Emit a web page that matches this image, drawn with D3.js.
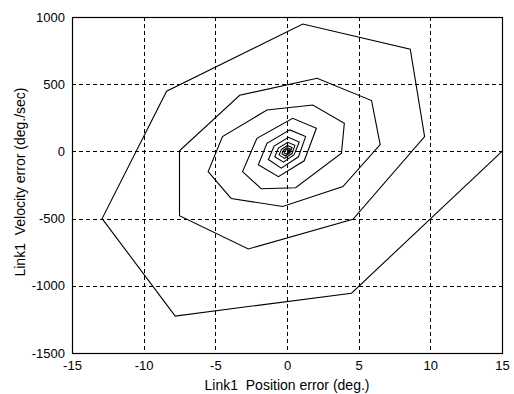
<!DOCTYPE html>
<html>
<head>
<meta charset="utf-8">
<script src="https://cdn.jsdelivr.net/npm/d3@7/dist/d3.min.js"></script>
<style>
  html, body { margin: 0; padding: 0; background: #fff; }
  svg { display: block; }
  text { font-family: "Liberation Sans", Arial, sans-serif; fill: #000; }
</style>
</head>
<body>
<svg id="chart" width="514" height="394"></svg>
<script>
// Phase-plane trajectory of link 1: position error (deg.) vs velocity error (deg./sec)
const positionError = [
  15, 4.5, -7.8, -12.9, -8.4, 1.1, 8.6, 9.6,
  4.6, -2.7, -7.5, -7.5, -3.3, 2.1, 5.9, 6.5,
  3.9, -0.3, -3.9, -5.5, -4.5, -1.4, 1.8, 4.0, 3.8,
  0.6, -1.8, -3.1, -2.1, 0.4, 2.05, 1.2,
  -0.6, -2.0, -1.4, 0.2, 1.3, 0.8,
  -0.4, -1.3, -0.9, 0.1, 0.85, 0.5,
  -0.25, -0.85, -0.6, 0.05, 0.55, 0.35,
  -0.16, -0.55, -0.38, 0.03, 0.35, 0.22,
  -0.1, -0.35, -0.25, 0.02, 0.22, 0.14,
  -0.06, -0.2, -0.14, 0.01, 0.12, 0.07, 0
];
const velocityError = [
  0, -1055, -1225, -500, 448, 948, 760, 110,
  -505, -726, -478, 5, 418, 544, 378, 50,
  -262, -410, -350, -150, 110, 308, 345, 209, -14,
  -270, -278, -150, 97, 246, 172, -70,
  -188, -100, 60, 160, 110, -40,
  -125, -60, 40, 105, 70, -25,
  -80, -40, 25, 68, 45, -16,
  -52, -26, 16, 44, 29, -10,
  -34, -17, 10, 28, 18, -6,
  -20, -11, 6, 17, 10, -3, 0
];

const xTicks = [-15, -10, -5, 0, 5, 10, 15];
const yTicks = [-1500, -1000, -500, 0, 500, 1000];
const xLabel = "Link1  Position error (deg.)";
const yLabel = "Link1  Velocity error (deg./sec)";

const svg = d3.select("#chart");
const plot = { left: 72, right: 502, top: 17, bottom: 353 };

const x = d3.scaleLinear().domain([-15, 15]).range([plot.left, plot.right]);
const y = d3.scaleLinear().domain([-1500, 1000]).range([plot.bottom, plot.top]);

// dashed grid
const grid = svg.append("g").attr("stroke", "#000").attr("stroke-width", 1)
  .attr("stroke-dasharray", "4,3").attr("shape-rendering", "crispEdges");
grid.selectAll("line.gx").data(xTicks.slice(1, -1)).join("line")
  .attr("x1", d => Math.round(x(d)) + 0.5).attr("x2", d => Math.round(x(d)) + 0.5)
  .attr("y1", plot.top).attr("y2", plot.bottom);
grid.selectAll("line.gy").data(yTicks.slice(1, -1)).join("line")
  .attr("y1", d => Math.round(y(d)) + 0.5).attr("y2", d => Math.round(y(d)) + 0.5)
  .attr("x1", plot.left).attr("x2", plot.right);

// axes with plain integer labels (ASCII hyphen for negatives)
const plain = d => String(d);
const xAxis = d3.axisBottom(x).tickValues(xTicks).tickFormat(plain).tickSize(0).tickPadding(8);
const yAxis = d3.axisLeft(y).tickValues(yTicks).tickFormat(plain).tickSize(0).tickPadding(7);

svg.append("g").attr("transform", `translate(0,${plot.bottom})`).call(xAxis)
  .call(g => g.select(".domain").remove())
  .selectAll("text").attr("font-size", 13).attr("font-family", "Liberation Sans, Arial, sans-serif")
  .attr("fill", "#000");
svg.append("g").attr("transform", `translate(${plot.left},0)`).call(yAxis)
  .call(g => g.select(".domain").remove())
  .selectAll("text").attr("font-size", 13).attr("font-family", "Liberation Sans, Arial, sans-serif")
  .attr("fill", "#000");

// trajectory
const pts = positionError.map((p, i) => [p, velocityError[i]]);
svg.append("path").datum(pts)
  .attr("fill", "none").attr("stroke", "#000").attr("stroke-width", 1.1)
  .attr("stroke-linejoin", "miter")
  .attr("d", d3.line().x(d => x(d[0])).y(d => y(d[1])));

// frame
svg.append("rect")
  .attr("x", plot.left + 0.5).attr("y", plot.top + 0.5)
  .attr("width", plot.right - plot.left).attr("height", plot.bottom - plot.top)
  .attr("fill", "none").attr("stroke", "#000").attr("stroke-width", 1.2);

// axis titles
svg.append("text").attr("x", (plot.left + plot.right) / 2).attr("y", 390)
  .attr("text-anchor", "middle").attr("font-size", 14).style("white-space", "pre")
  .text(xLabel);
svg.append("text").attr("transform", "translate(25,182) rotate(-90)")
  .attr("text-anchor", "middle").attr("font-size", 14).style("white-space", "pre")
  .text(yLabel);
</script>
</body>
</html>
